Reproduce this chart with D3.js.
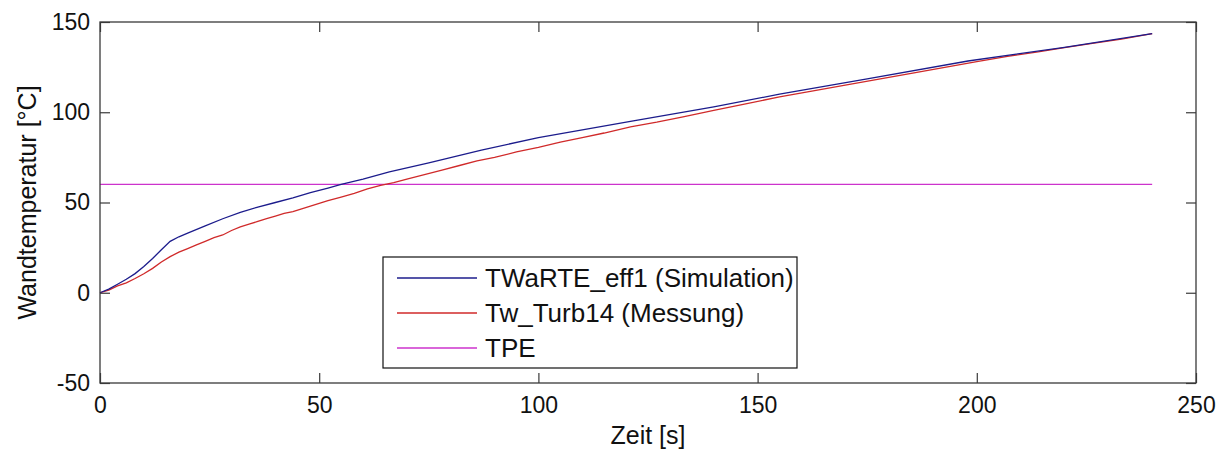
<!DOCTYPE html>
<html>
<head>
<meta charset="utf-8">
<script src="https://cdn.jsdelivr.net/npm/d3@7"></script>
<style>
  html, body { margin: 0; padding: 0; background: #fff; }
  svg { display: block; font-family: "Liberation Sans", Arial, sans-serif; }
</style>
</head>
<body>
<svg id="chart" width="1221" height="450"></svg>
<script>
// Wall temperature over time: simulation vs. measurement, with the TPE threshold
const xTicks = [0, 50, 100, 150, 200, 250];
const yTicks = [-50, 0, 50, 100, 150];

const simTime = [0, 2, 4, 6, 8, 10, 12, 14, 16, 18, 20, 24, 28, 32, 36, 40, 44, 48, 52, 55, 60, 66, 75, 87, 100, 121, 140, 155, 175, 198, 220, 240];
const simTemp = [0, 2, 4.7, 7.5, 10.6, 14.5, 19, 23.8, 28.5, 31, 33, 37, 41, 44.5, 47.5, 50, 52.5, 55.5, 58, 60, 63, 67, 72, 79, 86, 95, 103, 110, 118.5, 128.4, 136, 143.6];

const measTime = [0, 2, 4, 6, 8, 10, 12, 14, 16, 18, 20, 22, 24, 26, 28, 30, 32, 34, 36, 38, 40, 42, 44, 46, 48, 50, 52, 55, 58, 61, 64, 67, 70, 74, 78, 82, 86, 90, 95, 100, 105, 110, 115, 121, 127, 133, 140, 147, 155, 163, 170, 178, 186, 193, 200, 207, 214, 220, 226, 233, 240];
const measTemp = [0, 1.5, 3.8, 5.5, 7.9, 10.5, 13.5, 17, 20, 22.5, 24.5, 26.5, 28.5, 30.5, 32, 34.5, 36.5, 38, 39.5, 41, 42.5, 44, 45, 46.5, 48, 49.5, 51, 53, 55, 57.5, 59.5, 61, 63, 65.5, 68, 70.5, 73, 75, 78, 80.5, 83.5, 86, 88.5, 91.9, 94.5, 97.5, 101, 104.5, 108.5, 112, 115, 118.5, 122, 125, 128, 131, 133.5, 135.8, 138, 140.5, 143.5];

const tpeTime = [0, 240];
const tpeTemp = [60, 60];

const seriesNames = ["TWaRTE_eff1 (Simulation)", "Tw_Turb14 (Messung)", "TPE"];
const seriesColors = ["#1c1c8c", "#d02a2a", "#cc33cc"];

const svg = d3.select("#chart");
const padLeft = 100, padRight = 1196, padTop = 22, padBottom = 383;

const x = d3.scaleLinear().domain([0, 250]).range([padLeft, padRight]);
const y = d3.scaleLinear().domain([-50, 150]).range([padBottom, padTop]);

const axisColor = "#3a3a3a";
const plainNumber = d => String(d);

// axes with inward ticks on all four sides
const gB = svg.append("g").attr("transform", `translate(0,${padBottom})`)
  .call(d3.axisBottom(x).tickValues(xTicks).tickSize(-10).tickPadding(14).tickFormat(plainNumber));
const gL = svg.append("g").attr("transform", `translate(${padLeft},0)`)
  .call(d3.axisLeft(y).tickValues(yTicks).tickSize(-10).tickPadding(10).tickFormat(plainNumber));
const gT = svg.append("g").attr("transform", `translate(0,${padTop})`)
  .call(d3.axisTop(x).tickValues(xTicks).tickSize(-10).tickFormat(""));
const gR = svg.append("g").attr("transform", `translate(${padRight},0)`)
  .call(d3.axisRight(y).tickValues(yTicks).tickSize(-10).tickFormat(""));

[gB, gL, gT, gR].forEach(g => {
  g.select(".domain").remove();
  g.selectAll(".tick line").attr("stroke", axisColor).attr("stroke-width", 1.2);
  g.selectAll(".tick text").attr("fill", "#111").style("font-size", "23px")
    .style("font-family", "'Liberation Sans', Arial, sans-serif");
});

const series = [
  { t: simTime, v: simTemp },
  { t: measTime, v: measTemp },
  { t: tpeTime, v: tpeTemp }
];

const line = d3.line().x(d => x(d[0])).y(d => y(d[1]));

const plot = svg.append("g");
// draw order: TPE, measurement, simulation
[2, 1, 0].forEach(i => {
  const s = series[i];
  plot.append("path")
    .datum(d3.zip(s.t, s.v))
    .attr("fill", "none")
    .attr("stroke", seriesColors[i])
    .attr("stroke-width", 1.3)
    .attr("d", line);
});

// frame
svg.append("rect")
  .attr("x", padLeft).attr("y", padTop)
  .attr("width", padRight - padLeft).attr("height", padBottom - padTop)
  .attr("fill", "none").attr("stroke", axisColor).attr("stroke-width", 1.3);

// axis titles
svg.append("text")
  .attr("x", (padLeft + padRight) / 2).attr("y", 444)
  .attr("text-anchor", "middle").style("font-size", "25px").attr("fill", "#111")
  .text("Zeit [s]");

svg.append("text")
  .attr("transform", `translate(36,${(padTop + padBottom) / 2}) rotate(-90)`)
  .attr("text-anchor", "middle").style("font-size", "25px").attr("fill", "#111")
  .text("Wandtemperatur [°C]");

// legend
const lg = svg.append("g").attr("transform", "translate(383,257)");
lg.append("rect").attr("width", 414).attr("height", 111)
  .attr("fill", "#fff").attr("stroke", "#111").attr("stroke-width", 1.2);
seriesNames.forEach((name, i) => {
  const cy = 21 + i * 35;
  lg.append("line").attr("x1", 14).attr("x2", 94).attr("y1", cy).attr("y2", cy)
    .attr("stroke", seriesColors[i]).attr("stroke-width", 1.3);
  lg.append("text").attr("x", 102).attr("y", cy).attr("dy", "0.35em")
    .style("font-size", "26px").attr("fill", "#111").text(name);
});
</script>
</body>
</html>
